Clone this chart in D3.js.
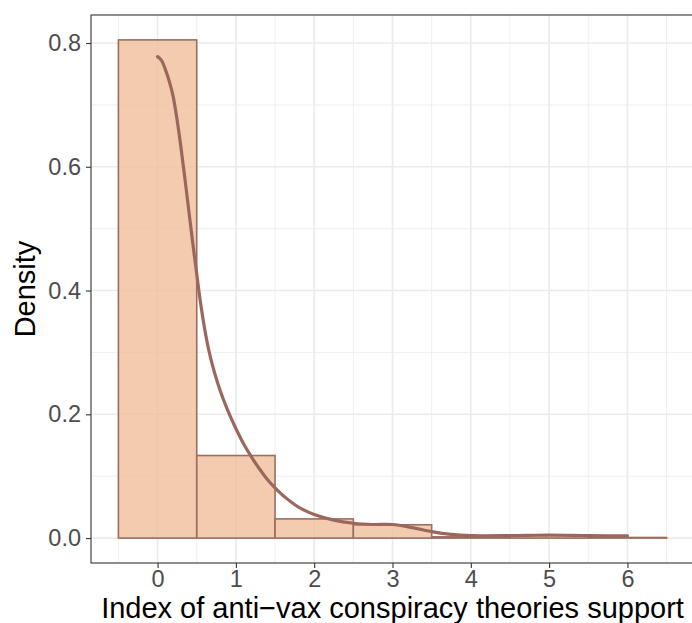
<!DOCTYPE html>
<html>
<head>
<meta charset="utf-8">
<script src="https://cdn.jsdelivr.net/npm/d3@7"></script>
<style>
  body { margin: 0; background: #fff; }
  svg { display: block; font-family: "Liberation Sans", Arial, sans-serif; }
</style>
</head>
<body>
<div id="chart"></div>
<script>
// histogram bins (centre, density)
const binCenters = [0, 1, 2, 3, 4, 5, 6];
const binDensity = [0.805, 0.1334, 0.031, 0.0215, 0.002, 0.004, 0.001];
const binWidth = 1;

// kernel density curve
const densX = [0, 0.05, 0.1, 0.15, 0.2, 0.25, 0.3, 0.35, 0.4, 0.45, 0.5, 0.55, 0.6, 0.65, 0.7, 0.8, 0.9, 1.0, 1.1, 1.2, 1.3, 1.4, 1.5, 1.6, 1.8, 2.0, 2.25, 2.5, 2.75, 3.0, 3.25, 3.5, 3.75, 4.0, 4.5, 5.0, 5.5, 6.0];
const densY = [0.778, 0.772, 0.757, 0.738, 0.713, 0.675, 0.630, 0.580, 0.528, 0.476, 0.427, 0.379, 0.339, 0.306, 0.280, 0.238, 0.205, 0.177, 0.152, 0.131, 0.112, 0.095, 0.081, 0.069, 0.050, 0.038, 0.029, 0.024, 0.022, 0.022, 0.017, 0.0105, 0.006, 0.004, 0.004, 0.005, 0.004, 0.0035];

const xTicks = [0, 1, 2, 3, 4, 5, 6];
const yTicks = [0.0, 0.2, 0.4, 0.6, 0.8];
const xMinor = [-0.5, 0.5, 1.5, 2.5, 3.5, 4.5, 5.5, 6.5];
const yMinor = [0.1, 0.3, 0.5, 0.7];

const W = 692, H = 623;
const panel = {left: 91, right: 694, top: 15, bottom: 563};

const svg = d3.select("#chart").append("svg")
    .attr("width", W)
    .attr("height", H);

const x = d3.scaleLinear().domain([-0.85, 6.85]).range([panel.left, panel.right]);
const y = d3.scaleLinear().domain([-0.04025, 0.84525]).range([panel.bottom, panel.top]);

// grid
const grid = svg.append("g");
grid.selectAll(".xminor").data(xMinor).enter().append("line")
    .attr("x1", d => x(d)).attr("x2", d => x(d))
    .attr("y1", panel.top).attr("y2", panel.bottom)
    .attr("stroke", "#EBEBEB").attr("stroke-width", 0.8);
grid.selectAll(".yminor").data(yMinor).enter().append("line")
    .attr("y1", d => y(d)).attr("y2", d => y(d))
    .attr("x1", panel.left).attr("x2", panel.right)
    .attr("stroke", "#EBEBEB").attr("stroke-width", 0.8);
grid.selectAll(".xmajor").data(xTicks).enter().append("line")
    .attr("x1", d => x(d)).attr("x2", d => x(d))
    .attr("y1", panel.top).attr("y2", panel.bottom)
    .attr("stroke", "#EBEBEB").attr("stroke-width", 1.6);
grid.selectAll(".ymajor").data(yTicks).enter().append("line")
    .attr("y1", d => y(d)).attr("y2", d => y(d))
    .attr("x1", panel.left).attr("x2", panel.right)
    .attr("stroke", "#EBEBEB").attr("stroke-width", 1.6);

// bars
svg.append("g").selectAll("rect")
    .data(binCenters.map((c, i) => ({c: c, d: binDensity[i]})))
    .enter().append("rect")
    .attr("x", d => x(d.c - binWidth / 2))
    .attr("width", d => x(d.c + binWidth / 2) - x(d.c - binWidth / 2))
    .attr("y", d => y(d.d))
    .attr("height", d => y(0) - y(d.d))
    .attr("fill", "rgba(240,190,155,0.8)")
    .attr("stroke", "#9E6D62")
    .attr("stroke-width", 1.6);

// density line
const line = d3.line()
    .x(d => x(d[0]))
    .y(d => y(d[1]))
    .curve(d3.curveCatmullRom);
svg.append("path")
    .datum(densX.map((v, i) => [v, densY[i]]))
    .attr("d", line)
    .attr("fill", "none")
    .attr("stroke", "#9A675C")
    .attr("stroke-width", 3.2)
    .attr("stroke-linecap", "round");

// panel border
svg.append("rect")
    .attr("x", panel.left).attr("y", panel.top)
    .attr("width", panel.right - panel.left)
    .attr("height", panel.bottom - panel.top)
    .attr("fill", "none")
    .attr("stroke", "#333333")
    .attr("stroke-width", 1.1);

// axes
const xAxis = svg.append("g")
    .attr("transform", `translate(0,${panel.bottom})`)
    .call(d3.axisBottom(x).tickValues(xTicks).tickFormat(d3.format("d")).tickSize(5).tickPadding(3));
const yAxis = svg.append("g")
    .attr("transform", `translate(${panel.left},0)`)
    .call(d3.axisLeft(y).tickValues(yTicks).tickFormat(d3.format(".1f")).tickSize(5).tickPadding(5));

[xAxis, yAxis].forEach(a => {
    a.select(".domain").remove();
    a.selectAll(".tick line").attr("stroke", "#333333").attr("stroke-width", 1.1);
    a.selectAll(".tick text")
        .attr("fill", "#4D4D4D")
        .style("font-size", "23.5px")
        .style("font-family", "'Liberation Sans', Arial, sans-serif");
});
xAxis.selectAll(".tick text").attr("dy", "0.68em");

// titles
svg.append("text")
    .attr("x", (panel.left + panel.right) / 2)
    .attr("y", 618)
    .attr("text-anchor", "middle")
    .style("font-size", "29px")
    .attr("fill", "#000")
    .text("Index of anti\u2212vax conspiracy theories support");

svg.append("text")
    .attr("transform", `translate(35,${(panel.top + panel.bottom) / 2}) rotate(-90)`)
    .attr("text-anchor", "middle")
    .style("font-size", "29px")
    .attr("fill", "#000")
    .text("Density");
</script>
</body>
</html>
